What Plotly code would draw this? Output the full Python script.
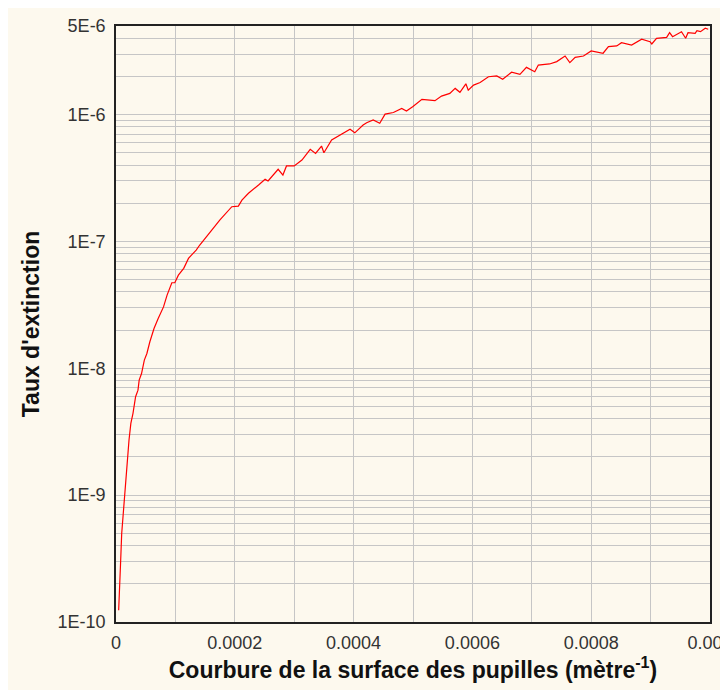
import plotly.graph_objects as go

# Curvature of pupil surface (1/m)
curvature = [
    4.5e-6, 6.2e-6, 7.9e-6, 9.6e-6, 1.23e-5, 1.4e-5, 1.68e-5, 1.9e-5, 2.19e-5, 2.5e-5,
    2.86e-5, 3.3e-5, 3.7e-5, 3.9e-5, 4.3e-5, 4.77e-5, 5.2e-5, 5.7e-5, 6.4e-5, 7.1e-5,
    8.0e-5, 8.6e-5, 9.1e-5, 9.4e-5, 9.9e-5, 1.05e-4, 1.14e-4, 1.22e-4, 1.27e-4, 1.35e-4,
    1.41e-4, 1.58e-4, 1.75e-4, 1.95e-4, 2.06e-4, 2.12e-4, 2.23e-4, 2.40e-4, 2.51e-4, 2.56e-4,
    2.73e-4, 2.81e-4, 2.87e-4, 3.00e-4, 3.13e-4, 3.27e-4, 3.36e-4, 3.46e-4, 3.50e-4, 3.63e-4,
    3.80e-4, 3.94e-4, 4.02e-4, 4.16e-4, 4.22e-4, 4.33e-4, 4.44e-4, 4.53e-4, 4.67e-4, 4.81e-4,
    4.89e-4, 5.00e-4, 5.15e-4, 5.37e-4, 5.48e-4, 5.62e-4, 5.71e-4, 5.79e-4, 5.89e-4, 5.93e-4,
    6.02e-4, 6.13e-4, 6.27e-4, 6.41e-4, 6.51e-4, 6.66e-4, 6.80e-4, 6.91e-4, 7.05e-4, 7.11e-4,
    7.22e-4, 7.30e-4, 7.42e-4, 7.56e-4, 7.64e-4, 7.73e-4, 7.87e-4, 8.00e-4, 8.20e-4, 8.29e-4,
    8.43e-4, 8.51e-4, 8.68e-4, 8.85e-4, 8.99e-4, 9.02e-4, 9.10e-4, 9.27e-4, 9.32e-4, 9.37e-4,
    9.52e-4, 9.59e-4, 9.63e-4, 9.75e-4, 9.78e-4, 9.84e-4, 9.92e-4, 9.97e-4,
]

# Extinction rate
extinction = [
    1.24e-10, 1.73e-10, 3.08e-10, 4.99e-10, 7.18e-10, 1.03e-9, 1.40e-9, 2.00e-9, 2.72e-9, 3.68e-9,
    4.42e-9, 5.97e-9, 6.73e-9, 8.07e-9, 9.10e-9, 1.16e-8, 1.31e-8, 1.62e-8, 2.06e-8, 2.47e-8,
    3.05e-8, 3.78e-8, 4.40e-8, 4.73e-8, 4.73e-8, 5.43e-8, 6.14e-8, 7.36e-8, 7.82e-8, 8.55e-8,
    9.38e-8, 1.19e-7, 1.48e-7, 1.88e-7, 1.90e-7, 2.12e-7, 2.40e-7, 2.79e-7, 3.09e-7, 3.00e-7,
    3.71e-7, 3.34e-7, 3.94e-7, 3.94e-7, 4.39e-7, 5.33e-7, 4.95e-7, 5.66e-7, 5.01e-7, 6.31e-7,
    7.03e-7, 7.66e-7, 7.19e-7, 8.28e-7, 8.63e-7, 9.08e-7, 8.55e-7, 1.01e-6, 1.04e-6, 1.12e-6,
    1.07e-6, 1.16e-6, 1.32e-6, 1.29e-6, 1.40e-6, 1.47e-6, 1.61e-6, 1.50e-6, 1.75e-6, 1.56e-6,
    1.71e-6, 1.79e-6, 1.99e-6, 2.02e-6, 1.90e-6, 2.16e-6, 2.08e-6, 2.36e-6, 2.18e-6, 2.46e-6,
    2.49e-6, 2.51e-6, 2.62e-6, 2.90e-6, 2.57e-6, 2.83e-6, 2.90e-6, 3.18e-6, 3.05e-6, 3.44e-6,
    3.48e-6, 3.69e-6, 3.54e-6, 3.93e-6, 3.76e-6, 3.61e-6, 4.00e-6, 4.07e-6, 4.43e-6, 4.12e-6,
    4.51e-6, 4.00e-6, 4.43e-6, 4.38e-6, 4.59e-6, 4.51e-6, 4.80e-6, 4.71e-6,
]

x_tickvals = [0, 0.0002, 0.0004, 0.0006, 0.0008, 0.001]
x_ticktext = ["0", "0.0002", "0.0004", "0.0006", "0.0008", "0.001"]
x_minorvals = [0.0001, 0.0003, 0.0005, 0.0007, 0.0009]

y_tickvals = [1e-10, 1e-9, 1e-8, 1e-7, 1e-6, 5e-6]
y_ticktext = ["1E-10", "1E-9", "1E-8", "1E-7", "1E-6", "5E-6"]
y_minorvals = [m * 10.0 ** e for e in range(-10, -5) for m in range(2, 10) if m * 10.0 ** e < 5e-6]

CREAM = "#FDF9EE"
GRID = "#C6C6C6"
FONT = "Liberation Sans, Arial, sans-serif"

fig = go.Figure()
fig.add_trace(go.Scatter(
    x=curvature, y=extinction, mode="lines",
    line=dict(color="#FF0000", width=1.2),
    showlegend=False,
))

fig.update_layout(
    width=720, height=682,
    margin=dict(l=108, r=18, t=18, b=68, pad=0, autoexpand=False),
    paper_bgcolor=CREAM,
    plot_bgcolor=CREAM,
    font=dict(family=FONT, color="#333333", size=18),
    xaxis=dict(
        range=[0, 0.001],
        automargin=False,
        tickmode="array", tickvals=x_tickvals, ticktext=x_ticktext,
        minor=dict(tickvals=x_minorvals, showgrid=True, gridcolor=GRID, gridwidth=1, ticks=""),
        showgrid=True, gridcolor=GRID, gridwidth=1,
        zeroline=False,
        showline=True, linecolor="#222222", linewidth=1.5, mirror=True,
        ticks="", ticklabelstandoff=4, ticklabeloverflow="allow",
        tickfont=dict(family=FONT, size=18, color="#333333"),
        title=dict(text="Courbure de la surface des pupilles (mètre<sup>-1</sup>)",
                   font=dict(family=FONT, size=23, color="#111111", weight="bold"),
                   standoff=2),
    ),
    yaxis=dict(
        type="log",
        range=[-10, 0.69897 - 6],
        automargin=False,
        tickmode="array", tickvals=y_tickvals, ticktext=y_ticktext,
        minor=dict(tickvals=y_minorvals, showgrid=True, gridcolor=GRID, gridwidth=1, ticks=""),
        showgrid=True, gridcolor=GRID, gridwidth=1,
        zeroline=False,
        showline=True, linecolor="#222222", linewidth=1.5, mirror=True,
        ticks="", ticklabelstandoff=5,
        tickfont=dict(family=FONT, size=18, color="#333333"),
        title=dict(text="Taux d'extinction",
                   font=dict(family=FONT, size=23, color="#111111", weight="bold"),
                   standoff=12),
    ),
)

fig.write_html("out.html")
